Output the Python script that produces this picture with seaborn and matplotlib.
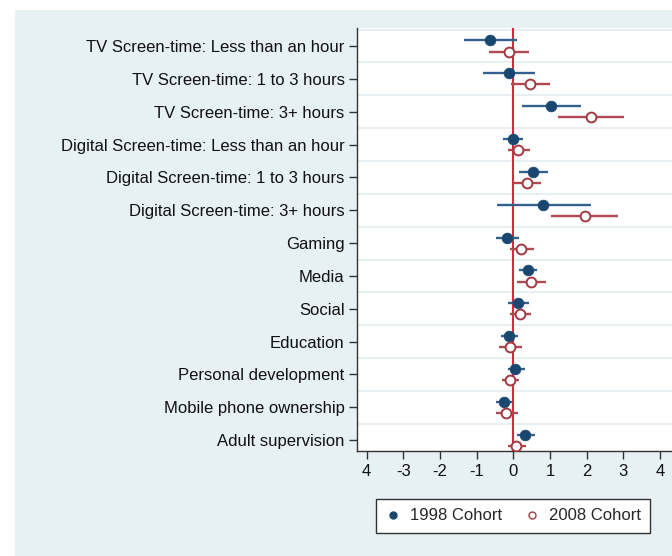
import numpy as np
import pandas as pd
import matplotlib
matplotlib.use('Agg')
import matplotlib.pyplot as plt
import seaborn as sns
from matplotlib.patches import Rectangle
from matplotlib.lines import Line2D

# Kategoriler (yukaridan asagiya)
categories = [
    "TV Screen-time: Less than an hour",
    "TV Screen-time: 1 to 3 hours",
    "TV Screen-time: 3+ hours",
    "Digital Screen-time: Less than an hour",
    "Digital Screen-time: 1 to 3 hours",
    "Digital Screen-time: 3+ hours",
    "Gaming",
    "Media",
    "Social",
    "Education",
    "Personal development",
    "Mobile phone ownership",
    "Adult supervision",
]

# 1998 Cohort: nokta tahmini ve guven araligi
est_1998 = [-0.62, -0.12, 1.02, -0.01, 0.53, 0.81, -0.17, 0.40, 0.14, -0.12, 0.06, -0.26, 0.33]
lo_1998 = [-1.33, -0.82, 0.25, -0.27, 0.16, -0.43, -0.47, 0.16, -0.13, -0.33, -0.15, -0.47, 0.10]
hi_1998 = [0.11, 0.59, 1.84, 0.28, 0.94, 2.11, 0.16, 0.66, 0.43, 0.12, 0.32, -0.02, 0.59]

# 2008 Cohort
est_2008 = [-0.12, 0.46, 2.12, 0.12, 0.38, 1.95, 0.21, 0.48, 0.19, -0.09, -0.10, -0.20, 0.08]
lo_2008 = [-0.65, -0.06, 1.23, -0.15, 0.03, 1.03, -0.10, 0.11, -0.08, -0.40, -0.31, -0.47, -0.14]
hi_2008 = [0.42, 1.00, 3.02, 0.45, 0.76, 2.87, 0.57, 0.90, 0.48, 0.25, 0.16, 0.13, 0.35]

x_ticks = [-4, -3, -2, -1, 0, 1, 2, 3, 4]
x_tick_labels = ["4", "-3", "-2", "-1", "0", "1", "2", "3", "4"]

navy = "#1a476f"
navy_line = "#33608c"
maroon = "#a23a42"
maroon_line = "#b04a52"
zero_red = "#d9283e"
bg = "#e7f0f3"

df = pd.concat([
    pd.DataFrame({"category": categories, "est": est_1998, "lo": lo_1998,
                  "hi": hi_1998, "cohort": "1998 Cohort"}),
    pd.DataFrame({"category": categories, "est": est_2008, "lo": lo_2008,
                  "hi": hi_2008, "cohort": "2008 Cohort"}),
], ignore_index=True)
df["pos"] = df["category"].map({c: i for i, c in enumerate(categories)})
df["y"] = df["pos"] + np.where(df["cohort"] == "1998 Cohort", -0.17, 0.17)

sns.set_theme(style="white")
plt.rcParams['font.family'] = ['Liberation Sans', 'DejaVu Sans']

fig = plt.figure(figsize=(6.72, 5.56), dpi=100)
fig.patch.set_facecolor("white")
fig.patches.append(Rectangle((15 / 672, 0), 1, 1 - 10 / 556, transform=fig.transFigure,
                             facecolor=bg, edgecolor="none", zorder=-10))

ax = fig.add_axes([357 / 672, 1 - 451 / 556, 1 - 357 / 672, (451 - 28) / 556])
ax.set_facecolor("white")

# kategoriler arasi yatay cizgiler
for g in np.arange(-0.5, len(categories), 1.0):
    ax.axhline(g, color="#e6eef2", lw=1.3, zorder=0)

ax.axvline(0, color=zero_red, lw=1.5, zorder=1)

d98 = df[df["cohort"] == "1998 Cohort"]
d08 = df[df["cohort"] == "2008 Cohort"]
ax.hlines(d98["y"], d98["lo"], d98["hi"], color=navy_line, lw=1.7, zorder=2)
ax.hlines(d08["y"], d08["lo"], d08["hi"], color=maroon_line, lw=1.7, zorder=2)

sns.scatterplot(data=d98, x="est", y="y", color=navy, s=60, edgecolor=navy,
                linewidth=0.5, ax=ax, zorder=3, legend=False)
sns.scatterplot(data=d08, x="est", y="y", facecolor="white", edgecolor=maroon,
                s=50, linewidth=1.4, ax=ax, zorder=3, legend=False)

ax.set_xlim(-4.26, 4.33)
ax.set_ylim(12.33, -0.55)
ax.set_yticks(range(len(categories)))
ax.set_yticklabels(categories, fontsize=12, color="#111111")
ax.set_xticks(x_ticks)
ax.set_xticklabels(x_tick_labels, fontsize=12, color="#111111")
ax.tick_params(axis="both", which="both", direction="out", length=6, width=1,
               color="#333333", left=True, bottom=True, pad=3)
ax.set_xlabel("")
ax.set_ylabel("")

for s in ["top", "right"]:
    ax.spines[s].set_visible(False)
for s in ["left", "bottom"]:
    ax.spines[s].set_color("#333333")
    ax.spines[s].set_linewidth(1.0)

handles = [
    Line2D([], [], marker="o", linestyle="none", markersize=5,
           markerfacecolor=navy, markeredgecolor=navy),
    Line2D([], [], marker="o", linestyle="none", markersize=5,
           markerfacecolor="white", markeredgecolor=maroon, markeredgewidth=1.0),
]
leg = fig.legend(handles, ["1998 Cohort", "2008 Cohort"], loc="center",
                 bbox_to_anchor=(513 / 672, 1 - 516 / 556), ncol=2, fontsize=12,
                 frameon=True, fancybox=False, edgecolor="#333333", framealpha=1,
                 handletextpad=0.5, columnspacing=1.3, borderpad=0.55,
                 handlelength=1.0)
leg.get_frame().set_linewidth(1.0)
leg.get_frame().set_facecolor("white")

fig.savefig("out.png", dpi=100)
plt.close(fig)
